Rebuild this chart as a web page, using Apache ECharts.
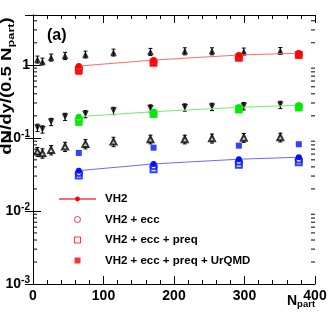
<!DOCTYPE html>
<html><head><meta charset="utf-8">
<script src="https://cdn.jsdelivr.net/npm/echarts@6/dist/echarts.min.js"></script>
<style>html,body{margin:0;padding:0;background:#fff}#c{width:332px;height:316px}</style>
</head><body><div id="c"></div>
<script>
// ---- data ----
const nPartData = [6.3, 13.4, 25.7, 45.5, 74.4, 114.2, 166.6, 215.3, 253.9, 299.0, 350.8];
const upFilled = [1.185, 1.113, 1.262, 1.327, 1.387, 1.477, 1.506, 1.538, 1.538, 1.524, 1.553];
const upFilledErr = [0.13, 0.12, 0.14, 0.15, 0.15, 0.16, 0.17, 0.17, 0.17, 0.17, 0.17];
const downFilled = [0.138, 0.131, 0.166, 0.195, 0.212, 0.235, 0.254, 0.262, 0.267, 0.273, 0.284];
const downFilledErr = [0.016, 0.015, 0.019, 0.022, 0.024, 0.027, 0.029, 0.030, 0.031, 0.032, 0.033];
const upOpen = [0.0648, 0.0617, 0.0684, 0.0759, 0.0826, 0.0888, 0.0957, 0.0957, 0.0988, 0.1007, 0.1019];
const upOpenErr = [0.009, 0.009, 0.010, 0.011, 0.012, 0.013, 0.013, 0.013, 0.014, 0.014, 0.014];

const nPartModel = [65, 171, 292, 377];
const redVH2 = [0.96, 1.16, 1.36, 1.44];
const redEcc = [0.90, 1.11, 1.30, 1.40];
const redPreq = [0.84, 1.07, 1.25, 1.36];
const redUrqmd = [0.80, 1.05, 1.23, 1.34];
const greenVH2 = [0.195, 0.228, 0.262, 0.279];
const greenEcc = [0.180, 0.220, 0.255, 0.270];
const greenPreq = [0.167, 0.212, 0.245, 0.260];
const greenUrqmd = [0.160, 0.209, 0.240, 0.256];
const blueVH2 = [0.0356, 0.0440, 0.0510, 0.0543];
const blueEcc = [0.0330, 0.0410, 0.0470, 0.0500];
const bluePreq = [0.0305, 0.0372, 0.0430, 0.0464];
const blueUrqmd = [0.0622, 0.0734, 0.0782, 0.0818];

const legendNames = ['VH2', 'VH2 + ecc', 'VH2 + ecc + preq', 'VH2 + ecc + preq + UrQMD'];
const xTicks = [0, 100, 200, 300, 400];
const yMin = 0.001, yMax = 4.8;

// ---- helpers ----
const FF = '"Liberation Sans", Arial, Helvetica, sans-serif';
const RED = '#ff0000';
const SQ = 'path://M0,0H10V10H0Z';
const zip = (xs, ys) => xs.map((x, i) => [x, ys[i]]);
const minorVals = [];
for (let e = -3; e <= 0; e++) for (let m = 2; m <= 9; m++) { const v = m * Math.pow(10, e); if (v < yMax) minorVals.push(v); }

function modelSeries(suffix, color, lineColor, vh2, ecc, preq, urq) {
  return [
    { name: legendNames[2] + suffix, type: 'scatter', data: zip(nPartModel, preq), symbol: 'emptyRect', symbolSize: 6,
      itemStyle: { color: color, borderColor: color, borderWidth: 1 }, z: 3 },
    { name: legendNames[1] + suffix, type: 'scatter', data: zip(nPartModel, ecc), symbol: 'emptyCircle', symbolSize: 6,
      itemStyle: { color: color, borderColor: color, borderWidth: 1 }, z: 4 },
    { name: legendNames[0] + suffix, type: 'line', data: zip(nPartModel, vh2), symbol: 'circle', symbolSize: 6,
      showSymbol: true, lineStyle: { color: lineColor, width: 1 }, itemStyle: { color: color }, z: 5 },
    { name: legendNames[3] + suffix, type: 'scatter', data: zip(nPartModel, urq), symbol: 'rect', symbolSize: 6,
      itemStyle: { color: color }, z: 6 }
  ];
}

function errSeries(vals, errs) {
  return {
    type: 'custom', z: 2,
    data: nPartData.map((n, i) => [n, vals[i] - errs[i], vals[i] + errs[i]]),
    encode: { x: 0, y: [1, 2] },
    renderItem: (params, api) => {
      const x = api.value(0), p1 = api.coord([x, api.value(1)]), p2 = api.coord([x, api.value(2)]);
      const st = { stroke: '#000', lineWidth: 1 };
      return { type: 'group', children: [
        { type: 'line', shape: { x1: p1[0], y1: p1[1], x2: p2[0], y2: p2[1] }, style: st },
        { type: 'line', shape: { x1: p1[0] - 2, y1: p1[1], x2: p1[0] + 2, y2: p1[1] }, style: st },
        { type: 'line', shape: { x1: p2[0] - 2, y1: p2[1], x2: p2[0] + 2, y2: p2[1] }, style: st }
      ]};
    }
  };
}

const chart = echarts.init(document.getElementById('c'), null, { renderer: 'canvas' });
const axisLine = { show: true, lineStyle: { color: '#000', width: 1 } };
const option = {
  animation: false,
  backgroundColor: '#fff',
  grid: { left: 33, right: 17, top: 15, bottom: 32 },
  xAxis: [
    { type: 'value', min: 0, max: 400, interval: 100, position: 'bottom',
      axisLine: axisLine, splitLine: { show: false },
      axisTick: { inside: true, length: 8, lineStyle: { color: '#000' } },
      minorTick: { show: true, splitNumber: 5, length: 4, lineStyle: { color: '#000' } },
      axisLabel: { color: '#000', fontSize: 14, fontWeight: 'bold', fontFamily: FF, margin: 5,
        formatter: v => xTicks.indexOf(v) >= 0 ? String(v) : '' } },
    { type: 'value', min: 0, max: 400, interval: 100, position: 'top',
      axisLine: axisLine, splitLine: { show: false },
      axisTick: { inside: true, length: 8, lineStyle: { color: '#000' } },
      minorTick: { show: true, splitNumber: 5, length: 4, lineStyle: { color: '#000' } },
      axisLabel: { show: false } }
  ],
  yAxis: [
    { type: 'log', logBase: 10, min: yMin, max: yMax, position: 'left',
      axisLine: axisLine, splitLine: { show: false },
      axisTick: { inside: true, length: 8, lineStyle: { color: '#000' } },
      axisLabel: { color: '#000', margin: 3, fontFamily: FF,
        formatter: v => {
          const l = Math.log10(v), e = Math.round(l);
          if (Math.abs(l - e) > 1e-6) return '';
          if (e === 0) return '{b|1}';
          return '{b|10}{s|' + e + '}';
        },
        rich: {
          b: { fontSize: 14, fontWeight: 'bold', fontFamily: FF, color: '#000', lineHeight: 18 },
          s: { fontSize: 10, fontWeight: 'bold', fontFamily: FF, color: '#000', lineHeight: 10, verticalAlign: 'top' }
        } } },
    { type: 'log', logBase: 10, min: yMin, max: yMax, position: 'right',
      axisLine: axisLine, splitLine: { show: false },
      axisTick: { inside: true, length: 8, lineStyle: { color: '#000' } },
      axisLabel: { show: false } }
  ],
  legend: {
    orient: 'vertical', left: 58, top: 193, padding: 0, itemWidth: 37, itemHeight: 6, itemGap: 8.5,
    selectedMode: false, symbolKeepAspect: true,
    textStyle: { color: '#000', fontSize: 11.5, fontWeight: 'bold', fontFamily: FF, padding: [0, 0, 0, 4] },
    data: [
      { name: legendNames[0] },
      { name: legendNames[1], icon: 'circle', itemStyle: { color: '#fff', borderColor: RED, borderWidth: 1 } },
      { name: legendNames[2], icon: SQ, itemStyle: { color: '#fff', borderColor: RED, borderWidth: 1 } },
      { name: legendNames[3], icon: SQ, itemStyle: { color: RED, borderWidth: 0 } }
    ]
  },
  graphic: [
    { type: 'text', left: 47, top: 28, style: { text: '(a)', font: 'bold 16px ' + FF, fill: '#000' } },
    { type: 'text', x: 7, y: 86, rotation: Math.PI / 2, scaleX: 1.16, scaleY: 0.88,
      style: { text: '{m|dN/dy/(0.5 N}{sub|part}{m|)}', align: 'center', verticalAlign: 'middle',
        rich: {
          m: { fontSize: 16, fontWeight: 'bold', fontFamily: FF, fill: '#000', lineHeight: 20 },
          sub: { fontSize: 11, fontWeight: 'bold', fontFamily: FF, fill: '#000', lineHeight: 11, verticalAlign: 'bottom' }
        } } },
    { type: 'text', left: 287, top: 294,
      style: { text: '{m|N}{sub|part}',
        rich: {
          m: { fontSize: 14, fontWeight: 'bold', fontFamily: FF, fill: '#000', lineHeight: 17 },
          sub: { fontSize: 9.5, fontWeight: 'bold', fontFamily: FF, fill: '#000', lineHeight: 9, verticalAlign: 'bottom' }
        } } }
  ],
  series: [
    { type: 'custom', z: 1, silent: true,
      data: minorVals.map(v => [0, v]), encode: { x: 0, y: 1 },
      renderItem: (params, api) => {
        const v = api.value(1), L = api.coord([0, v]), R = api.coord([400, v]);
        const st = { stroke: '#000', lineWidth: 1 };
        return { type: 'group', children: [
          { type: 'line', shape: { x1: L[0], y1: L[1], x2: L[0] + 4, y2: L[1] }, style: st },
          { type: 'line', shape: { x1: R[0] - 4, y1: R[1], x2: R[0], y2: R[1] }, style: st }
        ]};
      } },
    errSeries(upFilled, upFilledErr),
    errSeries(downFilled, downFilledErr),
    errSeries(upOpen, upOpenErr),
    { name: 'data1', type: 'scatter', data: zip(nPartData, upFilled), symbol: 'triangle', symbolSize: 6.5,
      itemStyle: { color: '#000' }, z: 3 },
    { name: 'data2', type: 'scatter', data: zip(nPartData, downFilled), symbol: 'triangle', symbolRotate: 180, symbolSize: 6.5,
      itemStyle: { color: '#000' }, z: 3 },
    { name: 'data3', type: 'scatter', data: zip(nPartData, upOpen), symbol: 'emptyTriangle', symbolSize: 6,
      itemStyle: { color: '#000', borderColor: '#000', borderWidth: 0.8 }, z: 3 },
    ...modelSeries('', RED, '#ff6a6a', redVH2, redEcc, redPreq, redUrqmd),
    ...modelSeries(' ', '#00e800', '#70f070', greenVH2, greenEcc, greenPreq, greenUrqmd),
    ...modelSeries('  ', '#0010ff', '#6a6aff', blueVH2, blueEcc, bluePreq, blueUrqmd)
  ]
};
chart.setOption(option);
</script>
</body></html>
